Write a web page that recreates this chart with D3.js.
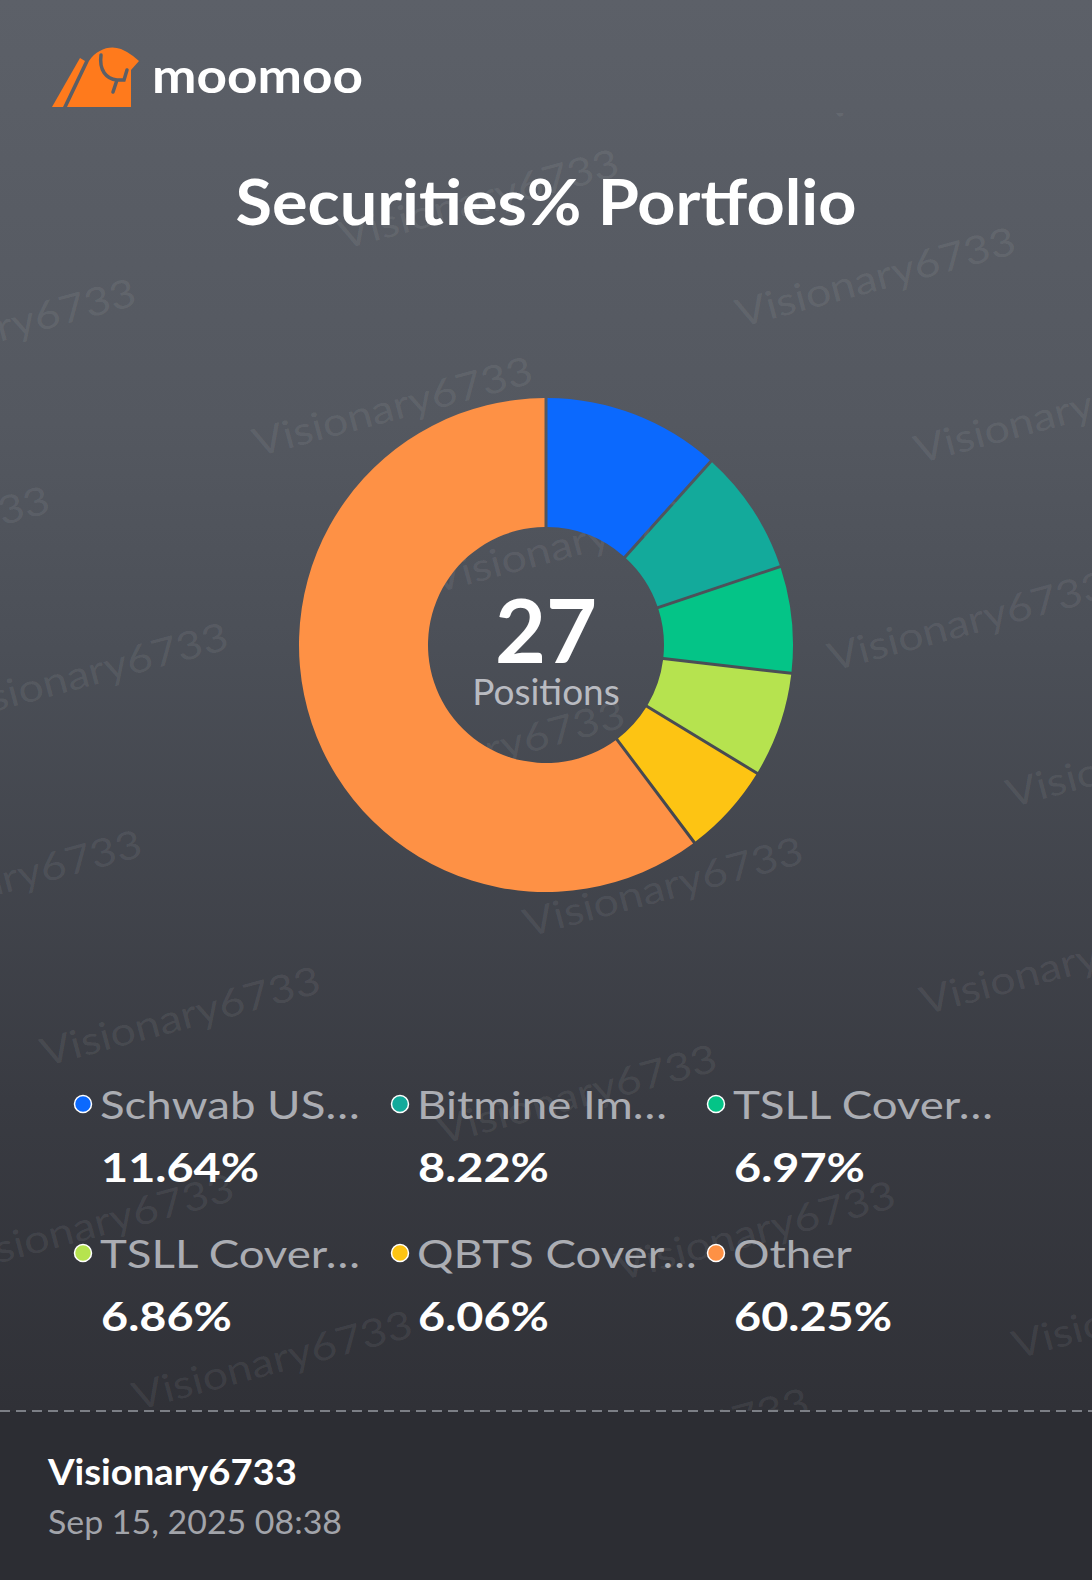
<!DOCTYPE html>
<html>
<head>
<meta charset="utf-8">
<script src="https://cdn.jsdelivr.net/npm/d3@7"></script>
<style>
	html, body { margin: 0; padding: 0; background: #2c2d33; }
	svg { display: block; }
	text { font-family: Lato, "Noto Sans", sans-serif; }
</style>
</head>
<body>
<div id="chart"></div>
<script>
// holdings shown in the legend, in ring order (clockwise from 12 o'clock)
var names = ['Schwab US\u2026', 'Bitmine Im\u2026', 'TSLL Cover\u2026', 'TSLL Cover\u2026', 'QBTS Cover\u2026', 'Other'];
var shares = [11.64, 8.22, 6.97, 6.86, 6.06, 60.25];
var colors = ['#0b69fe', '#13aa9b', '#04c487', '#b6e34f', '#fdc413', '#fe9145'];
var positionCount = 27;
var title = 'Securities% Portfolio';
var user = 'Visionary6733';
var stamp = 'Sep 15, 2025 08:38';

var W = 1092, H = 1580;

page = {
	footer_y: 1411,

	init: function() {
		this.svg = d3.select('#chart').append('svg')
			.attr('width', W)
			.attr('height', H)
			.attr('viewBox', '0,0,' + W + ',' + H);

		var defs = this.svg.append('defs');
		var grad = defs.append('linearGradient')
			.attr('id', 'bg')
			.attr('gradientUnits', 'userSpaceOnUse')
			.attr('x1', 0).attr('y1', 0).attr('x2', 0).attr('y2', this.footer_y);
		[[0, '#5c6068'], [0.3, '#545860'], [0.46, '#4b4f57'], [0.78, '#393b42'], [1, '#303137']]
			.forEach(function(s) {
				grad.append('stop').attr('offset', s[0]).attr('stop-color', s[1]);
			});

		defs.append('clipPath').attr('id', 'wm-clip')
			.append('rect')
				.attr('x', 0).attr('y', 113)
				.attr('width', W).attr('height', this.footer_y - 113);

		this.svg.append('rect')
			.attr('width', W).attr('height', this.footer_y)
			.attr('fill', 'url(#bg)');
		this.svg.append('rect')
			.attr('y', this.footer_y)
			.attr('width', W).attr('height', H - this.footer_y)
			.attr('fill', '#2c2d33');
	}
}

watermark = {
	angle: -15,
	row_step: 178,
	col_step: 500,

	draw: function(svg) {
		var g = svg.append('g').attr('clip-path', 'url(#wm-clip)');
		var a = this.angle * Math.PI / 180;
		var dx = Math.cos(a), dy = Math.sin(a);   // along the text
		var nx = -dy, ny = dx;                      // across rows
		var spots = [];
		for(var j = -1; j < 9; j++) {
			var t = 330 + j * this.row_step;
			var s0 = (j % 2 === 0) ? 267 : 130;
			for(var k = -2; k < 3; k++) {
				var s = s0 + k * this.col_step;
				spots.push([s * dx + t * nx, s * dy + t * ny]);
			}
		}
		g.selectAll('.wm').data(spots)
			.enter().append('text')
				.attr('class', 'wm')
				.attr('transform', function(p) { return 'translate(' + p[0] + ',' + p[1] + ') rotate(' + watermark.angle + ')'; })
				.attr('font-size', 39)
				.attr('textLength', 288)
				.attr('lengthAdjust', 'spacingAndGlyphs')
				.attr('fill', 'rgba(255,255,255,0.075)')
				.text(user);
	}
}

header = {
	draw: function(svg) {
		var g = svg.append('g');
		// moomoo bull mark
		g.append('path')
			.attr('d', 'M52 107 L63 107 L85 61 L80 58 Z')
			.attr('fill', '#ff7a1c');
		g.append('path')
			.attr('d', 'M67 107 L89 61 C97 49 110 45 121 49 L127 52 L133 56 L139 61 L131 70 L131 107 Z')
			.attr('fill', '#ff7a1c');
		g.append('path')
			.attr('d', 'M101 55 C99 70 106 79 117 80 L124 80 L127 70 M117 80 L113 92')
			.attr('fill', 'none')
			.attr('stroke', '#5b5f67')
			.attr('stroke-width', 3.5)
			.attr('stroke-linecap', 'round');
		g.append('text')
			.attr('x', 152).attr('y', 93)
			.attr('font-size', 47)
			.attr('font-weight', 700)
			.attr('textLength', 211)
			.attr('lengthAdjust', 'spacingAndGlyphs')
			.attr('fill', '#ffffff')
			.text('moomoo');

		svg.append('text')
			.attr('x', W / 2).attr('y', 225)
			.attr('text-anchor', 'middle')
			.attr('font-size', 63)
			.attr('font-weight', 700)
			.attr('textLength', 621)
			.attr('lengthAdjust', 'spacingAndGlyphs')
			.attr('fill', '#ffffff')
			.text(title);
	}
}

donut = {
	cx: 546,
	cy: 645,
	outer: 247,
	inner: 118,

	draw: function(svg) {
		var g = svg.append('g')
			.attr('transform', 'translate(' + this.cx + ',' + this.cy + ')');

		var pie = d3.pie().sort(null).value(function(d) { return d; });
		var arc = d3.arc()
			.innerRadius(this.inner)
			.outerRadius(this.outer)
			.padRadius(200)
			.padAngle(3 / 200);

		g.selectAll('.slice').data(pie(shares))
			.enter().append('path')
				.attr('class', 'slice')
				.attr('d', arc)
				.attr('fill', function(d, i) { return colors[i]; });

		g.append('text')
			.attr('y', 18)
			.attr('text-anchor', 'middle')
			.attr('font-size', 88)
			.attr('font-weight', 700)
			.attr('fill', '#ffffff')
			.text(positionCount);

		g.append('text')
			.attr('y', 60)
			.attr('text-anchor', 'middle')
			.attr('font-size', 37)
			.attr('fill', '#b9bbc1')
			.text('Positions');
	}
}

legend = {
	cols: [83, 400, 716],
	rows: [1104, 1253],

	draw: function(svg) {
		var items = names.map(function(n, i) {
			return { name: n, share: shares[i], color: colors[i], col: i % 3, row: Math.floor(i / 3) };
		});
		var g = svg.append('g');
		var cols = this.cols, rows = this.rows;

		var item = g.selectAll('.item').data(items)
			.enter().append('g')
				.attr('class', 'item')
				.attr('transform', function(d) { return 'translate(' + cols[d.col] + ',' + rows[d.row] + ')'; });

		item.append('circle')
			.attr('r', 8.5)
			.attr('fill', function(d) { return d.color; })
			.attr('stroke', '#ffffff')
			.attr('stroke-width', 1.5);

		// the app font runs wider than Lato, so stretch horizontally
		item.append('text')
			.attr('transform', 'translate(17,15) scale(1.2,1)')
			.attr('font-size', 38)
			.attr('fill', '#abadb3')
			.text(function(d) { return d.name; });

		item.append('text')
			.attr('transform', 'translate(18,78) scale(1.17,1)')
			.attr('font-size', 40)
			.attr('font-weight', 700)
			.attr('fill', '#ffffff')
			.text(function(d) { return d3.format('.2f')(d.share) + '%'; });
	}
}

footer = {
	draw: function(svg) {
		svg.append('line')
			.attr('x1', 0).attr('x2', W)
			.attr('y1', page.footer_y).attr('y2', page.footer_y)
			.attr('stroke', '#7c7f86')
			.attr('stroke-width', 2)
			.attr('stroke-dasharray', '10,6');

		svg.append('text')
			.attr('x', 48).attr('y', 1485)
			.attr('font-size', 37)
			.attr('font-weight', 700)
			.attr('textLength', 249)
			.attr('lengthAdjust', 'spacingAndGlyphs')
			.attr('fill', '#ffffff')
			.text(user);

		svg.append('text')
			.attr('x', 48).attr('y', 1534)
			.attr('font-size', 32)
			.attr('textLength', 294)
			.attr('lengthAdjust', 'spacingAndGlyphs')
			.attr('fill', '#a2a4aa')
			.text(stamp);
	}
}

window.onload = function() {
	page.init();
	watermark.draw(page.svg);
	header.draw(page.svg);
	donut.draw(page.svg);
	legend.draw(page.svg);
	footer.draw(page.svg);
}
</script>
</body>
</html>
